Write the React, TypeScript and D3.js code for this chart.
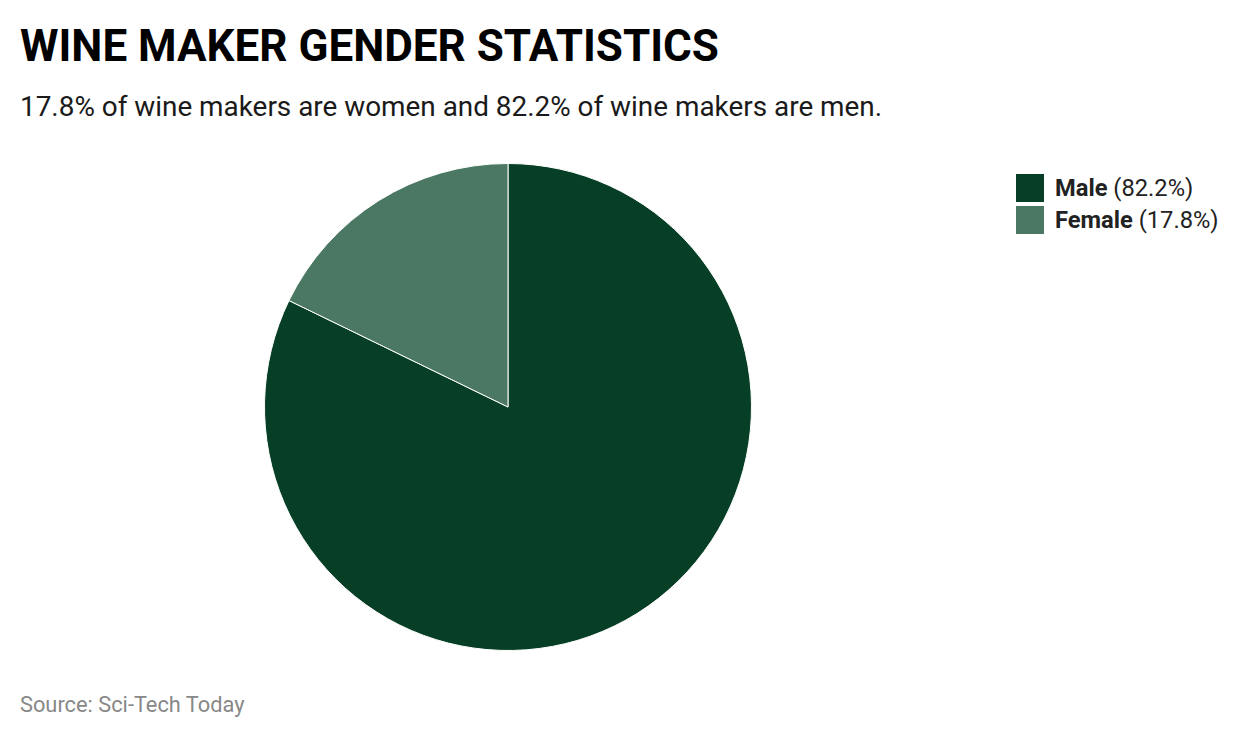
import { useRef, useEffect } from "react";
import * as d3 from "d3";

const categories = ["Male", "Female"];
const values = [82.2, 17.8];
const colors = ["#063f25", "#4b7862"];

const title = "WINE MAKER GENDER STATISTICS";
const subtitle = "17.8% of wine makers are women and 82.2% of wine makers are men.";
const source = "Source: Sci-Tech Today";

const W = 1240;
const H = 738;
const font = "Roboto, 'Noto Sans', sans-serif";

export default function App() {
  const svgRef = useRef<SVGSVGElement>(null);

  useEffect(() => {
    if (!svgRef.current) return;
    const svg = d3.select(svgRef.current);
    svg.selectAll("*").remove();

    svg.append("rect").attr("width", W).attr("height", H).attr("fill", "#fff");

    // Title + subtitle
    svg
      .append("text")
      .attr("x", 20)
      .attr("y", 61)
      .attr("font-family", font)
      .attr("font-weight", "bold")
      .attr("font-size", 44)
      .attr("fill", "#000")
      .text(title);

    svg
      .append("text")
      .attr("x", 20)
      .attr("y", 116)
      .attr("font-family", font)
      .attr("font-size", 27.9)
      .attr("fill", "#1a1a1a")
      .text(subtitle);

    // Pie
    const data = categories.map((c, i) => ({ name: c, value: values[i], color: colors[i] }));
    const pie = d3
      .pie<{ name: string; value: number; color: string }>()
      .value((d) => d.value)
      .sort(null);
    const arc = d3
      .arc<d3.PieArcDatum<{ name: string; value: number; color: string }>>()
      .innerRadius(0)
      .outerRadius(243.5);

    const g = svg.append("g").attr("transform", "translate(508,407)");
    g.selectAll("path")
      .data(pie(data))
      .join("path")
      .attr("d", arc)
      .attr("fill", (d) => d.data.color)
      .attr("stroke", "#fff")
      .attr("stroke-width", 1);

    // Legend
    const legend = svg.append("g").attr("transform", "translate(1016,174)");
    const item = legend
      .selectAll("g")
      .data(data)
      .join("g")
      .attr("transform", (_, i) => `translate(0,${i * 32})`);
    item
      .append("rect")
      .attr("width", 28)
      .attr("height", 28)
      .attr("fill", (d) => d.color);
    const t = item
      .append("text")
      .attr("x", 39)
      .attr("y", 22)
      .attr("font-family", font)
      .attr("font-size", 23.7)
      .attr("fill", "#222");
    t.append("tspan").attr("font-weight", "bold").text((d) => d.name);
    t.append("tspan").text((d) => ` (${d.value}%)`);

    // Source
    svg
      .append("text")
      .attr("x", 20)
      .attr("y", 712)
      .attr("font-family", font)
      .attr("font-size", 21.8)
      .attr("fill", "#888")
      .text(source);
  }, []);

  return (
    <div style={{ margin: -8 }}>
      <svg ref={svgRef} width={W} height={H} style={{ display: "block" }} />
    </div>
  );
}
